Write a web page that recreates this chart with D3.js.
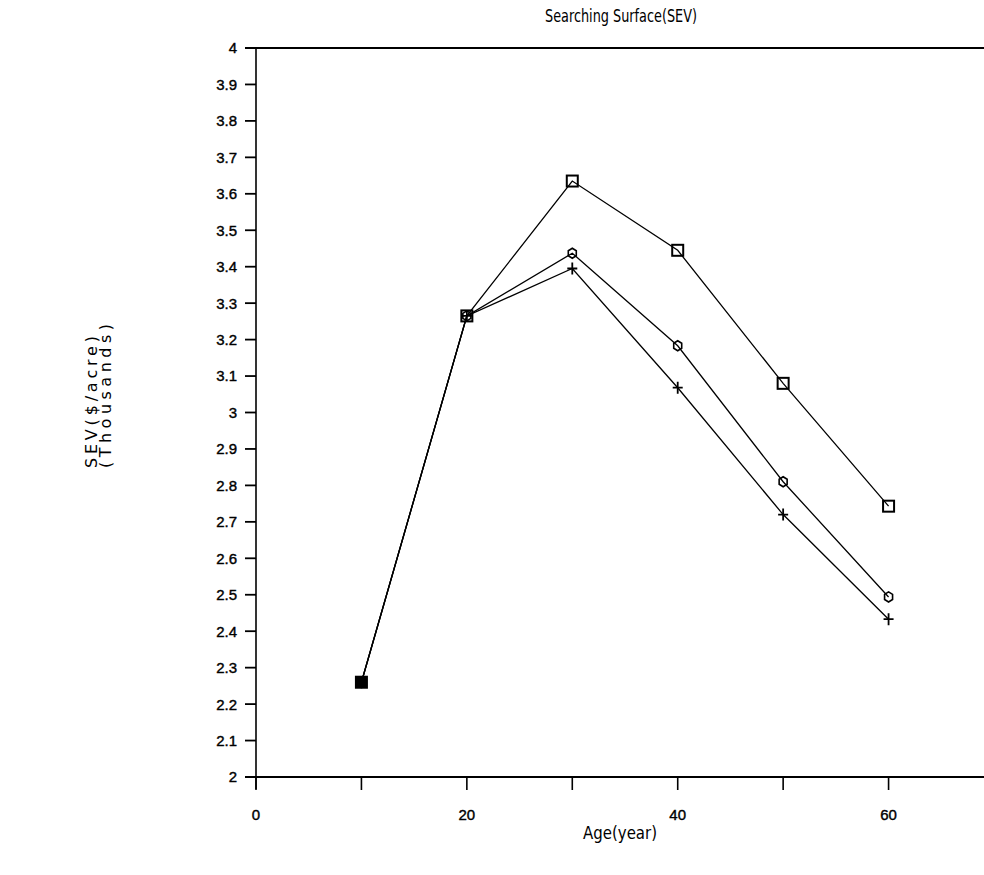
<!DOCTYPE html>
<html><head><meta charset="utf-8">
<script src="https://cdn.jsdelivr.net/npm/d3@7"></script>
<style>
html,body{margin:0;padding:0;background:#fff;overflow:hidden;}
svg{display:block;}
text{fill:#000;}
</style></head>
<body>
<svg id="chart" width="984" height="875"></svg>
<script>
const ages = [10, 20, 30, 40, 50, 60];
const seriesSquare = [2.26, 3.265, 3.635, 3.445, 3.08, 2.743];
const seriesDiamond = [2.26, 3.265, 3.437, 3.183, 2.81, 2.494];
const seriesPlus = [2.26, 3.265, 3.395, 3.068, 2.72, 2.433];
const yTicks = [2, 2.1, 2.2, 2.3, 2.4, 2.5, 2.6, 2.7, 2.8, 2.9, 3, 3.1, 3.2, 3.3, 3.4, 3.5, 3.6, 3.7, 3.8, 3.9, 4];
const xTicks = [0, 10, 20, 30, 40, 50, 60, 70];
const xLabels = [0, 20, 40, 60];
const title = "Searching Surface(SEV)";
const xTitle = "Age(year)";
const yTitle1 = "SEV($/acre)";
const yTitle2 = "(Thousands)";

const svg = d3.select("#chart");
const font = "'Liberation Sans Narrow','DejaVu Sans Condensed',sans-serif";
const tickFont = "'Liberation Sans','Arial',sans-serif";
const x = d3.scaleLinear().domain([0, 70]).range([256, 994]);
const y = d3.scaleLinear().domain([2, 4]).range([777, 48]);

// frame lines
svg.append("line").attr("x1", 245).attr("x2", 984).attr("y1", y(4)).attr("y2", y(4))
  .attr("stroke", "#000").attr("stroke-width", 2);
svg.append("line").attr("x1", 245).attr("x2", 984).attr("y1", y(2)).attr("y2", y(2))
  .attr("stroke", "#000").attr("stroke-width", 2);
svg.append("line").attr("x1", x(0)).attr("x2", x(0)).attr("y1", y(4)).attr("y2", y(2) + 12)
  .attr("stroke", "#000").attr("stroke-width", 1.6);

// y ticks
const yAxis = svg.append("g");
yTicks.forEach(t => {
  yAxis.append("line").attr("x1", 245).attr("x2", x(0)).attr("y1", y(t)).attr("y2", y(t))
    .attr("stroke", "#000").attr("stroke-width", 1.8);
  yAxis.append("text").attr("x", 237).attr("y", y(t)).attr("dy", "0.36em")
    .attr("text-anchor", "end").attr("font-family", tickFont).attr("font-size", 15)
    .attr("stroke", "#000").attr("stroke-width", 0.4)
    .text(d3.format("")(+t.toFixed(1)));
});
// x ticks
xTicks.forEach(t => {
  svg.append("line").attr("x1", x(t)).attr("x2", x(t)).attr("y1", y(2)).attr("y2", y(2) + 13)
    .attr("stroke", "#000").attr("stroke-width", 1.6);
});
xLabels.forEach(t => {
  svg.append("text").attr("x", x(t)).attr("y", 820).attr("text-anchor", "middle")
    .attr("font-family", tickFont).attr("font-size", 15)
    .attr("stroke", "#000").attr("stroke-width", 0.4).text(t);
});

// titles
svg.append("text").attr("x", 621).attr("y", 22).attr("text-anchor", "middle")
  .attr("font-family", font).attr("font-size", 17)
  .attr("textLength", 152).attr("lengthAdjust", "spacingAndGlyphs").text(title);
svg.append("text").attr("x", 620).attr("y", 839).attr("text-anchor", "middle")
  .attr("font-family", font).attr("font-size", 17)
  .attr("textLength", 74).attr("lengthAdjust", "spacingAndGlyphs").text(xTitle);
svg.append("text").attr("transform", "translate(97,402) rotate(-90)").attr("text-anchor", "middle")
  .attr("font-family", "'DejaVu Sans',sans-serif").attr("font-size", 16)
  .attr("textLength", 132).attr("lengthAdjust", "spacing").text(yTitle1);
svg.append("text").attr("transform", "translate(111,396) rotate(-90)").attr("text-anchor", "middle")
  .attr("font-family", "'DejaVu Sans',sans-serif").attr("font-size", 16)
  .attr("textLength", 144).attr("lengthAdjust", "spacing").text(yTitle2);

const line = d3.line().x((d, i) => x(ages[i])).y(d => y(d));
const allSeries = [
  {vals: seriesPlus, type: "plus"},
  {vals: seriesDiamond, type: "diamond"},
  {vals: seriesSquare, type: "square"}
];
allSeries.forEach(s => {
  svg.append("path").datum(s.vals).attr("d", line).attr("fill", "none")
    .attr("stroke", "#000").attr("stroke-width", 1.3);
});
allSeries.forEach(s => {
  const g = svg.append("g");
  s.vals.forEach((v, i) => {
    const cx = x(ages[i]), cy = y(v);
    if (s.type === "square") {
      g.append("rect").attr("x", cx - 5.5).attr("y", cy - 5.5).attr("width", 11).attr("height", 11)
        .attr("fill", "none").attr("stroke", "#000").attr("stroke-width", 2);
    } else if (s.type === "diamond") {
      g.append("path").attr("transform", `translate(${cx},${cy})`)
        .attr("d", "M0,-5L4,-2.5L4,2.5L0,5L-4,2.5L-4,-2.5Z")
        .attr("fill", "none").attr("stroke", "#000").attr("stroke-width", 1.6);
    } else {
      g.append("path").attr("transform", `translate(${cx},${cy})`)
        .attr("d", "M-5,0H5M0,-6V6")
        .attr("fill", "none").attr("stroke", "#000").attr("stroke-width", 1.8);
    }
  });
});
// the first point is shown filled where markers overlap
svg.append("rect").attr("x", x(ages[0]) - 5.5).attr("y", y(seriesSquare[0]) - 5.5)
  .attr("width", 11).attr("height", 11).attr("fill", "#000");
</script>
</body></html>
